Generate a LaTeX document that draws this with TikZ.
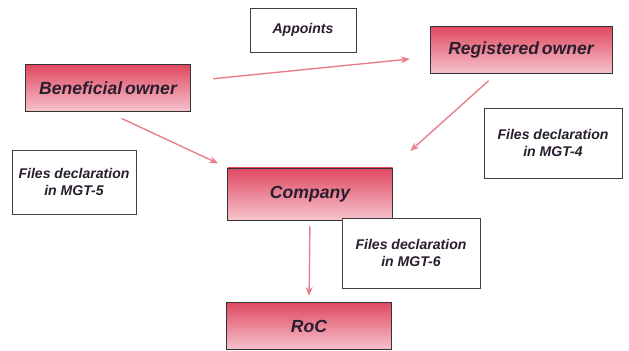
\documentclass[tikz,border=0pt]{standalone}
\usepackage{xcolor}
\usepackage{fontspec}
\setmainfont{Liberation Sans}
\usepackage{tikz}
\usetikzlibrary{arrows.meta}
\definecolor{box_red}{RGB}{224,72,96}
\definecolor{box_pink}{RGB}{246,196,206}
\definecolor{arrow_red}{RGB}{232,128,140}
\definecolor{text_dark}{RGB}{40,30,45}

\begin{document}
\begin{tikzpicture}[
    party/.style={draw=black!80, top color=box_red, bottom color=box_pink,
      minimum width=3.3cm, minimum height=0.95cm, text=text_dark,
      font=\fontsize{10}{12}\selectfont\bfseries\itshape},
    note/.style={draw=black!75, fill=white, align=center, text=text_dark,
      font=\fontsize{8}{10}\selectfont\bfseries\itshape},
    flow/.style={->, arrow_red, thick, >={Stealth[length=5pt,width=4pt]}}
  ]

      % Fix the canvas
      \useasboundingbox (0, 0) rectangle (12.58, -7.02);

      % Draw the parties
      \node[party] (ben) at (2.16, -1.76) {Beneficial\,owner};
      \node[party, minimum width=3.64cm] (reg) at (10.42, -1.0) {Registered\,owner};
      \node[party, minimum height=1.04cm] (comp) at (6.2, -3.88) {Company};
      \node[party] (roc) at (6.18, -6.52) {RoC};

      % Draw the notes
      \node[note, minimum width=2.12cm, minimum height=0.88cm] (appoints) at (6.06, -0.6) {Appoints};
      \node[note, minimum width=2.48cm, minimum height=1.28cm] (mgt5) at (1.48, -3.64) {Files declaration\\in MGT-5};
      \node[note, minimum width=2.76cm, minimum height=1.4cm] (mgt4) at (11.06, -2.86) {Files declaration\\in MGT-4};
      \node[note, minimum width=2.76cm, minimum height=1.4cm] (mgt6) at (8.22, -5.06) {Files declaration\\in MGT-6};

      % Draw the arrows
      \draw[flow, shorten <=0.45cm, shorten >=0.4cm] ([yshift=4pt]ben.east) -- ([yshift=-4pt]reg.west);
      \draw[flow, shorten <=0.3cm, shorten >=0.2cm] (ben.south) -- (comp.north west);
      \draw[flow, shorten <=0.2cm, shorten >=0.2cm] ([xshift=-0.5cm]reg.south) -- ([xshift=0.2cm, yshift=0.2cm]comp.north east);
      \draw[flow, shorten <=0.12cm, shorten >=0.12cm] (comp.south) -- (roc.north);

  \end{tikzpicture}
\end{document}
